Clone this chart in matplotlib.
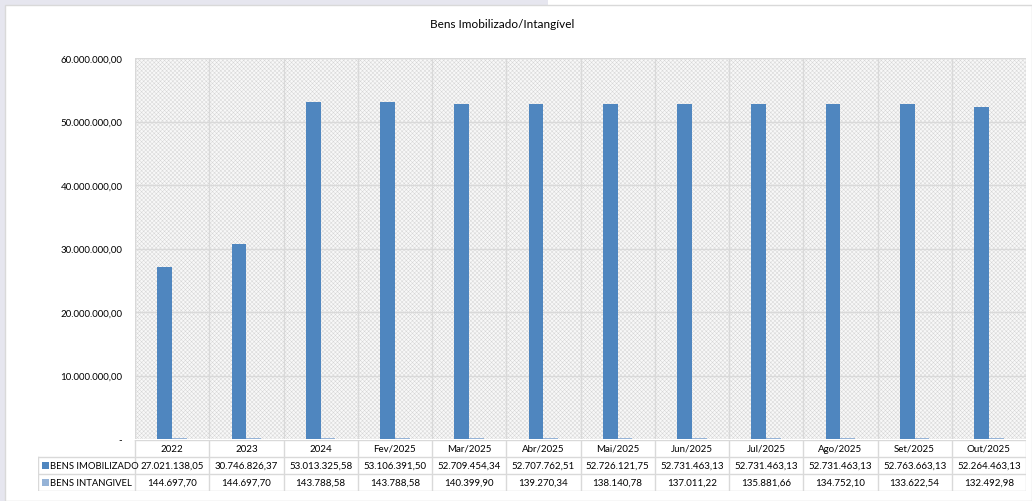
import matplotlib
matplotlib.use("Agg")
import matplotlib.pyplot as plt
from matplotlib.patches import Rectangle
import numpy as np

plt.rcParams['font.family'] = ['Lato', 'DejaVu Sans']
plt.rcParams['hatch.linewidth'] = 0.35

categorias = ["2022", "2023", "2024", "Fev/2025", "Mar/2025", "Abr/2025", "Mai/2025",
              "Jun/2025", "Jul/2025", "Ago/2025", "Set/2025", "Out/2025"]
imobilizado = [27021138.05, 30746826.37, 53013325.58, 53106391.50, 52709454.34, 52707762.51,
               52726121.75, 52731463.13, 52731463.13, 52731463.13, 52763663.13, 52264463.13]
intangivel = [144697.70, 144697.70, 143788.58, 143788.58, 140399.90, 139270.34,
              138140.78, 137011.22, 135881.66, 134752.10, 133622.54, 132492.98]
series = ["BENS IMOBILIZADO", "BENS INTANGIVEL"]
cores = ["#4f86bf", "#95b3d7"]


def fmt(v):
    s = f"{v:,.2f}"
    return s.replace(",", "X").replace(".", ",").replace("X", ".")


W, H = 1032, 502
fig = plt.figure(figsize=(W / 100, H / 100), dpi=100)
fig.patch.set_facecolor("white")

# page background strips and chart frame
fig.add_artist(Rectangle((0, 0), 5 / W, 1, transform=fig.transFigure, color="#e6e6ef", lw=0, zorder=-3))
fig.add_artist(Rectangle((0, 1 - 6 / H), 548 / W, 6 / H, transform=fig.transFigure, color="#e6e6ef", lw=0, zorder=-3))
fig.add_artist(Rectangle((5 / W, 0), 1 - 5 / W, 1 - 6 / H, transform=fig.transFigure,
                         facecolor="white", edgecolor="#d9d9d9", lw=1, zorder=-2))

gray = "#d9d9d9"
left, right = 135 / W, 1026 / W
bottom, top = 1 - 440 / H, 1 - 59 / H
ax = fig.add_axes([left, bottom, right - left, top - bottom])
n = len(categorias)
x = np.arange(n)
ax.set_xlim(-0.5, n - 0.5)
ax.set_ylim(0, 60000000)

# hatched plot area
ax.add_patch(Rectangle((0, 0), 1, 1, transform=ax.transAxes, facecolor="#f8f8f8",
                       edgecolor="#d6d6d6", hatch="xxxxxxxx", lw=0, zorder=0))
for yv in range(10000000, 60000001, 10000000):
    ax.axhline(yv, color=gray, lw=1, zorder=1)
for k in range(n + 1):
    ax.axvline(k - 0.5, color=gray, lw=1, zorder=1)

bw = 0.2
ax.bar(x - bw / 2, imobilizado, width=bw, color=cores[0], zorder=3)
ax.bar(x + bw / 2, intangivel, width=bw, color=cores[1], zorder=3)

for s in ax.spines.values():
    s.set_visible(False)
ax.set_xticks([])
yt = list(range(0, 60000001, 10000000))
ax.set_yticks(yt)
ax.set_yticklabels(["-"] + [fmt(v) for v in yt[1:]])
ax.tick_params(axis="y", length=0, pad=9, labelsize=7, labelcolor="#000000")

fig.text(502 / W, 1 - 24 / H, "Bens Imobilizado/Intangível", ha="center", va="center", fontsize=8.5)

# data table
tl = 38 / W
tax = fig.add_axes([tl, 1 - 492 / H, right - tl, 51 / H])
lab_w = 97 / ((1026 - 135) / n)
xl = -0.5 - lab_w
tax.set_xlim(xl, n - 0.5)
tax.set_ylim(3, 0)
tax.axis("off")
tax.plot([-0.5, n - 0.5], [0, 0], color=gray, lw=1)
for yy in (1, 2, 3):
    tax.plot([xl, n - 0.5], [yy, yy], color=gray, lw=1)
tax.plot([xl, xl], [1, 3], color=gray, lw=1)
for k in range(n + 1):
    tax.plot([k - 0.5, k - 0.5], [0, 3], color=gray, lw=1)
for i, c in enumerate(categorias):
    tax.text(i, 0.5, c, ha="center", va="center", fontsize=7)
    tax.text(i, 1.5, fmt(imobilizado[i]), ha="center", va="center", fontsize=7)
    tax.text(i, 2.5, fmt(intangivel[i]), ha="center", va="center", fontsize=7)
for r, (nome, cor) in enumerate(zip(series, cores)):
    tax.add_patch(Rectangle((xl + 0.05, r + 1.3), 0.1, 0.4, facecolor=cor, lw=0))
    tax.text(xl + 0.16, r + 1.5, nome, ha="left", va="center", fontsize=6.8)

fig.savefig("out.png", dpi=100)
